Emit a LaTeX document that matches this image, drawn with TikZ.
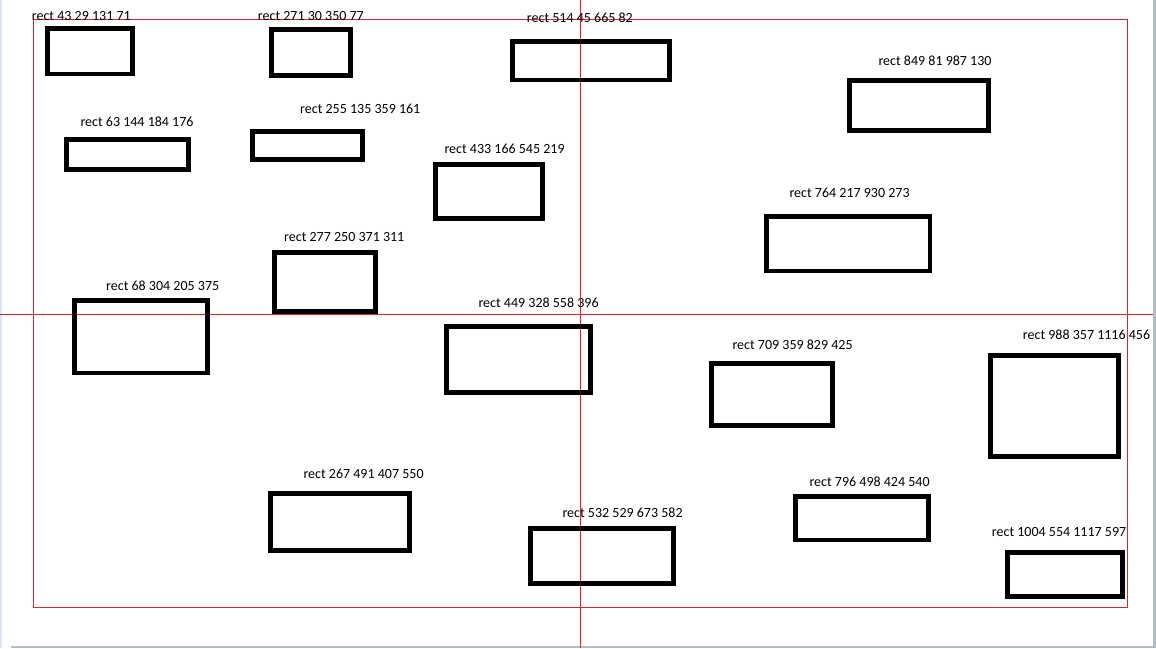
\documentclass[tikz,border=0pt]{standalone}
\usepackage{fontspec}
\setmainfont{Carlito}
\usepackage{xcolor}
\usepackage{tikz}
\definecolor{cross}{HTML}{ED1C24}
\definecolor{framec}{HTML}{D0282E}
\definecolor{winl}{HTML}{DCE5F0}
\definecolor{wind}{HTML}{AFBBCB}
\tikzset{
  box/.style={draw=black, line width=4.8pt, line join=miter},
  frame/.style={draw=framec, line width=1pt},
  hair/.style={draw=cross, line width=1pt},
  lab/.style={text=black, font=\fontsize{14}{16}\selectfont, inner sep=0pt, anchor=west},
}

\begin{document}
\begin{tikzpicture}[x=1pt,y=-1pt]
  \useasboundingbox (0,0) rectangle (1156,648);
  \fill[white] (0,0) rectangle (1156,648);

  % window edges
  \fill[winl] (0,0) rectangle (2,648);
  \fill[wind] (1153,0) rectangle (1156,648);
  \fill[wind] (11,645.7) rectangle (1156,648);

  % frame and cross
  \draw[frame] (33.5,19.5) rectangle (1127.5,607.5);
  \coordinate (vt) at (580.5,0);
  \coordinate (vb) at (580.5,648);
  \coordinate (hl) at (0,314.5);
  \coordinate (hr) at (1153,314.5);
  \draw[hair] (vt) -- (vb);
  \draw[hair] (hl) -- (hr);

  % boxes
  \draw[box] (47.4,28.4) rectangle (132.6,73.9);
  \draw[box] (271.7,29.7) rectangle (350.3,75.3);
  \draw[box] (66.7,139.4) rectangle (188.3,169.3);
  \draw[box] (252.7,131.7) rectangle (362.3,159.3);
  \draw[box] (512.4,41.7) rectangle (669.6,79.9);
  \draw[box] (435.7,164.7) rectangle (542.3,218.6);
  \draw[box] (849.7,80.7) rectangle (988.3,130.3);
  \draw[box] (766.7,216.4) rectangle (929.9,270.9);
  \draw[box] (74.4,300.7) rectangle (207.3,372.9);
  \draw[box] (274.4,252.4) rectangle (375.3,311.6);
  \draw[box] (446.7,326.4) rectangle (590.3,392.3);
  \draw[box] (711.4,363.4) rectangle (832.3,425.3);
  \draw[box] (990.7,355.7) rectangle (1118.3,456.3);
  \draw[box] (270.7,493.4) rectangle (409.3,550.3);
  \draw[box] (530.7,528.4) rectangle (673.3,583.3);
  \draw[box] (795.7,496.4) rectangle (928.3,539.9);
  \draw[box] (1007.4,552.4) rectangle (1122.6,596.6);

  % labels
  \node[lab] (tA) at (31.7,16) {rect 43 29 131 71};
  \node[lab] (tB) at (257.7,16) {rect 271 30 350 77};
  \node[lab] (tC) at (80.3,121.7) {rect 63 144 184 176};
  \node[lab] (tD) at (300,109) {rect 255 135 359 161};
  \node[lab] (tE) at (526.7,17.3) {rect 514 45 665 82};
  \node[lab] (tF) at (444.3,149.3) {rect 433 166 545 219};
  \node[lab] (tG) at (878.3,60.3) {rect 849 81 987 130};
  \node[lab] (tH) at (789.3,193.3) {rect 764 217 930 273};
  \node[lab] (tI) at (106,285.7) {rect 68 304 205 375};
  \node[lab] (tJ) at (284,236.7) {rect 277 250 371 311};
  \node[lab] (tK) at (478.3,302.7) {rect 449 328 558 396};
  \node[lab] (tL) at (732.3,344.7) {rect 709 359 829 425};
  \node[lab] (tM) at (1022.7,334.3) {rect 988 357 1116 456};
  \node[lab] (tN) at (303.3,474.3) {rect 267 491 407 550};
  \node[lab] (tO) at (562.3,512.3) {rect 532 529 673 582};
  \node[lab] (tP) at (809.3,481.7) {rect 796 498 424 540};
  \node[lab] (tQ) at (991.7,532.3) {rect 1004 554 1117 597};
\end{tikzpicture}
\end{document}
